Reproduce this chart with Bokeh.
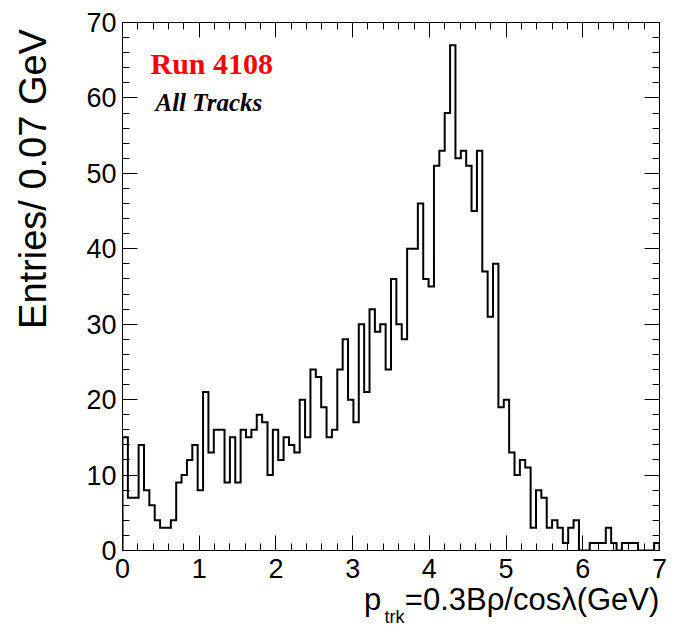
import numpy as np
from bokeh.plotting import figure
from bokeh.models import Range1d, LinearAxis, SingleIntervalTicker, FixedTicker, Label, ColumnDataSource
from bokeh.embed import file_html
from bokeh.resources import INLINE

# ---- data (entries per 0.07 GeV bin) ----
x_min = 0.0
bin_width = 0.07
counts = [15, 7, 7, 14, 8, 6, 4, 3, 3, 4,
          9, 10, 12, 14, 8, 21, 13, 16, 16, 9,
          15, 9, 16, 15, 16, 18, 17, 10, 16, 12,
          15, 14, 13, 20, 15, 24, 23, 19, 15, 16,
          24, 28, 20, 17, 30, 21, 32, 29, 30, 24,
          36, 30, 28, 40, 40, 46, 36, 35, 51, 53,
          58, 67, 52, 53, 51, 45, 53, 37, 31, 38,
          19, 20, 13, 10, 12, 11, 3, 8, 7, 3,
          4, 3, 1, 3, 4, 0, 0, 1, 1, 1,
          3, 1, 0, 1, 1, 1, 0, 0, 0, 1]
x_range = (0, 7)
y_range = (0, 70)
y_title = "Entries/ 0.07 GeV"
x_title_main = "p"
x_title_sub = "trk"
x_title_rest = "=0.3B\u03c1/cos\u03bb(GeV)"
run_text = "Run 4108"
sel_text = "All Tracks"

# ---- layout constants (text anchor positions along the axes) ----
P_POS, SUB_POS, REST_POS = 3.259, 3.546, 5.339
Y_TITLE_POS = 49.25

edges = x_min + bin_width * np.arange(len(counts) + 1)
xs = np.repeat(edges, 2)
ys = np.concatenate([[0], np.repeat(np.array(counts, dtype=float), 2), [0]])
src = ColumnDataSource(dict(x=xs, y=ys))

p = figure(width=673, height=632, x_range=Range1d(*x_range), y_range=Range1d(*y_range),
           output_backend="svg", toolbar_location=None,
           min_border_left=122, min_border_right=14, min_border_top=22, min_border_bottom=82)
p.background_fill_color = "white"
p.border_fill_color = "white"
p.outline_line_color = "black"
p.outline_line_width = 1
p.xgrid.visible = False
p.ygrid.visible = False

p.line("x", "y", source=src, line_color="black", line_width=2, line_join="miter")

FONT = "Liberation Sans"


def style_axis(ax, major_len, minor_len, labels=True, standoff=5):
    ax.axis_line_color = "black"
    ax.axis_line_width = 1
    ax.major_tick_in = major_len
    ax.major_tick_out = 0
    ax.minor_tick_in = minor_len
    ax.minor_tick_out = 0
    ax.major_tick_line_color = "black"
    ax.minor_tick_line_color = "black"
    ax.major_tick_line_width = 1
    ax.minor_tick_line_width = 1
    if labels:
        ax.major_label_text_font = FONT
        ax.major_label_text_font_size = "27px"
        ax.major_label_text_color = "black"
        ax.major_label_standoff = standoff
    else:
        ax.major_label_text_font_size = "0px"
        ax.major_label_text_alpha = 0
        ax.major_label_standoff = 0


p.xaxis.ticker = SingleIntervalTicker(interval=1, num_minor_ticks=5)
p.yaxis.ticker = SingleIntervalTicker(interval=10, num_minor_ticks=5)
style_axis(p.xaxis[0], 15, 7, True, 8)
style_axis(p.yaxis[0], 15, 7, True, 6)

top = LinearAxis(ticker=SingleIntervalTicker(interval=1, num_minor_ticks=5))
style_axis(top, 15, 7, False)
p.add_layout(top, "above")
right = LinearAxis(ticker=SingleIntervalTicker(interval=10, num_minor_ticks=5))
style_axis(right, 15, 7, False)
p.add_layout(right, "right")


def text_axis(ticks, texts, size, standoff, orientation="horizontal"):
    ax = LinearAxis(ticker=FixedTicker(ticks=ticks, minor_ticks=[]),
                    major_label_overrides={t: s for t, s in zip(ticks, texts)},
                    major_label_orientation=orientation)
    ax.axis_line_color = None
    ax.major_tick_line_color = None
    ax.minor_tick_line_color = None
    ax.major_tick_in = 0
    ax.major_tick_out = 0
    ax.minor_tick_in = 0
    ax.minor_tick_out = 0
    ax.major_label_text_font = FONT
    ax.major_label_text_font_size = size
    ax.major_label_text_color = "black"
    ax.major_label_standoff = standoff
    return ax


# y-axis title (upper part of the axis, like ROOT)
p.add_layout(text_axis([Y_TITLE_POS], [y_title], "38px", 29, "vertical"), "left")

# x-axis title with subscript
p.add_layout(text_axis([P_POS, REST_POS], [x_title_main, x_title_rest], "31px", 1), "below")
p.add_layout(text_axis([SUB_POS], [x_title_sub], "18px", -13), "below")

# annotations
p.add_layout(Label(x=0.365, y=64.63, text=run_text, text_align="left",
                   text_baseline="middle", text_font="Liberation Serif",
                   text_font_style="bold", text_font_size="30px", text_color="#ff0000"))
p.add_layout(Label(x=0.430, y=59.33, text=sel_text, text_align="left",
                   text_baseline="middle", text_font="Liberation Serif",
                   text_font_style="bold italic", text_font_size="25px", text_color="black"))

open("out.html", "w").write(file_html(p, INLINE))
